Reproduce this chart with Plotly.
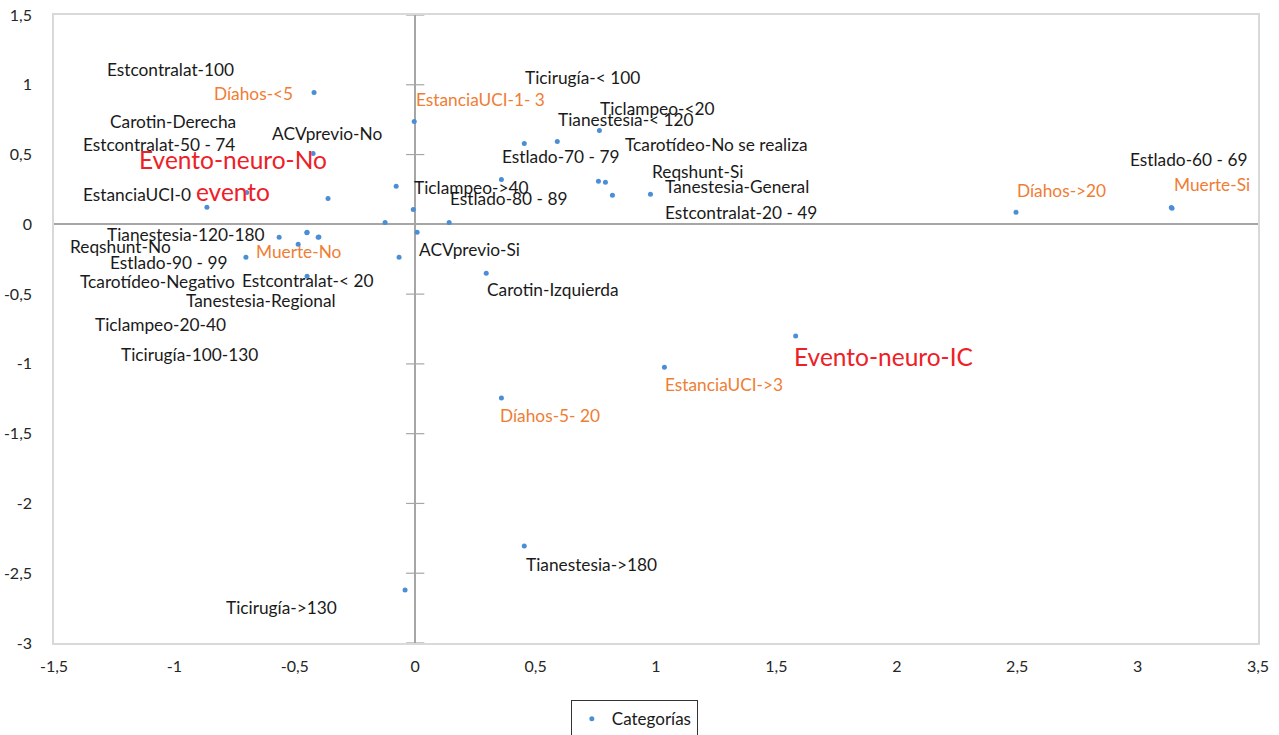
import plotly.graph_objects as go

# ---- data ----
categories = [
    "Evento-neuro-No evento", "Evento-neuro-IC",
    "Muerte-No", "Muerte-Si",
    "Díahos-<5", "Díahos-5- 20", "Díahos->20",
    "EstanciaUCI-0", "EstanciaUCI-1- 3", "EstanciaUCI->3",
    "ACVprevio-No", "ACVprevio-Si",
    "Carotin-Derecha", "Carotin-Izquierda",
    "Estlado-60 - 69", "Estlado-70 - 79", "Estlado-80 - 89", "Estlado-90 - 99",
    "Estcontralat-< 20", "Estcontralat-20 - 49", "Estcontralat-50 - 74", "Estcontralat-100",
    "Tcarotídeo-Negativo", "Tcarotídeo-No se realiza",
    "Reqshunt-No", "Reqshunt-Si",
    "Tanestesia-General", "Tanestesia-Regional",
    "Tianestesia-< 120", "Tianestesia-120-180", "Tianestesia->180",
    "Ticlampeo-<20", "Ticlampeo-20-40", "Ticlampeo->40",
    "Ticirugía-< 100", "Ticirugía-100-130", "Ticirugía->130",
]
dim1 = [
    -0.700, 1.580,
    -0.486, 3.143,
    -0.420, 0.358, 2.495,
    -0.865, -0.004, 1.035,
    -0.424, 0.008,
    -0.362, 0.295,
    3.140, 0.453, 0.141, -0.703,
    -0.449, 0.819, -0.125, -0.008,
    -0.565, 0.790,
    -0.449, 0.761,
    0.977, -0.067,
    0.590, -0.403, 0.453,
    0.765, -0.400, -0.079,
    0.358, -0.450, -0.042,
]
dim2 = [
    0.229, -0.800,
    -0.143, 0.115,
    0.945, -1.245, 0.086,
    0.122, 0.737, -1.024,
    0.508, -0.057,
    0.186, -0.351,
    0.120, 0.580, 0.014, -0.236,
    -0.372, 0.208, 0.014, 0.107,
    -0.093, 0.301,
    -0.057, 0.308,
    0.215, -0.236,
    0.594, -0.093, -2.305,
    0.673, -0.090, 0.272,
    0.322, -0.060, -2.620,
]

# outcome categories drawn in colour
orange_labels = ["Muerte-No", "Muerte-Si", "Díahos-<5", "Díahos-5- 20", "Díahos->20",
                 "EstanciaUCI-1- 3", "EstanciaUCI->3"]
red_labels = ["Evento-neuro-No evento", "Evento-neuro-IC"]

# label placement (data units, manually moved labels as in the original)
label_x = [
    -0.757, 1.563,
    -0.669, 3.143,
    -0.844, 0.345, 2.491,
    -1.389, -0.004, 1.031,
    -0.603, 0.008,
    -1.277, 0.291,
    2.960, 0.353, 0.137, -1.277,
    -0.728, 1.031, -1.389, -1.289,
    -1.401, 0.861,
    -1.443, 0.973,
    1.031, -0.960,
    0.586, -1.289, 0.453,
    0.761, -1.339, -0.012,
    0.449, -1.231, -0.794,
]
label_y = [
    0.347, -0.945,
    -0.193, 0.286,
    0.938, -1.367, 0.243,
    0.215, 0.895, -1.145,
    0.651, -0.179,
    0.737, -0.465,
    0.465, 0.487, 0.186, -0.272,
    -0.401, 0.086, 0.573, 1.110,
    -0.408, 0.573,
    -0.157, 0.379,
    0.272, -0.544,
    0.752, -0.072, -2.434,
    0.830, -0.716, 0.265,
    1.052, -0.931, -2.749,
]

x_ticks = [-1.5, -1, -0.5, 0, 0.5, 1, 1.5, 2, 2.5, 3, 3.5]
y_ticks = [-3, -2.5, -2, -1.5, -1, -0.5, 0, 0.5, 1, 1.5]


def fmt(v):
    return ("%g" % v).replace(".", ",")


FONT = "Lato, 'Open Sans', sans-serif"
BLUE = "#4a8fd6"
ORANGE = "#ef7d33"
RED = "#ee2027"
BLACK = "#1a1a1a"

fig = go.Figure()

# cross tick marks on the vertical axis line at x = 0
fig.add_trace(go.Scatter(
    x=[0] * len(y_ticks), y=y_ticks, mode="markers",
    marker=dict(symbol="line-ew", size=13, line=dict(color="#a6a6a6", width=1.2)),
    hoverinfo="skip", showlegend=False,
))

fig.add_trace(go.Scatter(
    x=dim1, y=dim2, mode="markers", name="Categorías",
    text=categories, hoverinfo="text",
    marker=dict(color=BLUE, size=5),
))

for cat, lx, ly in zip(categories, label_x, label_y):
    if cat in red_labels:
        color, size = RED, 24.5
    elif cat in orange_labels:
        color, size = ORANGE, 17.3
    else:
        color, size = BLACK, 17.3
    text = cat
    anchor = "left"
    if cat == "Evento-neuro-No evento":
        text = "Evento-neuro-No<br>evento"
        anchor = "center"
    fig.add_annotation(
        x=lx, y=ly, text=text, showarrow=False,
        xanchor=anchor, yanchor="middle", align="center",
        font=dict(family=FONT, size=size, color=color),
    )

fig.update_layout(
    width=1279, height=735,
    margin=dict(l=54, r=21, t=15, b=92, autoexpand=False),
    paper_bgcolor="white", plot_bgcolor="white",
    font=dict(family=FONT, size=16, color="#262626"),
    showlegend=True,
    legend=dict(
        x=0.482, xanchor="center", y=-0.091, yanchor="top",
        bordercolor="#333333", borderwidth=1,
        font=dict(family=FONT, size=17, color="#1a1a1a"),
        bgcolor="white",
    ),
    xaxis=dict(
        range=[-1.5, 3.5], tickvals=x_ticks, ticktext=[fmt(v) for v in x_ticks],
        showgrid=False, zeroline=True, zerolinecolor="#a6a6a6", zerolinewidth=1.5,
        showline=True, mirror=True, linecolor="#d9d9d9", linewidth=1.5,
        ticks="", ticklabelstandoff=8, automargin=False,
        tickfont=dict(family=FONT, size=16, color="#262626"),
    ),
    yaxis=dict(
        range=[-3, 1.5], tickvals=y_ticks, ticktext=[fmt(v) for v in y_ticks],
        showgrid=False, zeroline=True, zerolinecolor="#a6a6a6", zerolinewidth=1.5,
        showline=True, mirror=True, linecolor="#d9d9d9", linewidth=1.5,
        ticks="", ticklabelstandoff=17, automargin=False,
        tickfont=dict(family=FONT, size=16, color="#262626"),
    ),
)

fig.write_html(
    "out.html",
    config={"displayModeBar": False},
    post_script="document.body.style.margin='0';document.body.style.overflow='hidden';",
)
